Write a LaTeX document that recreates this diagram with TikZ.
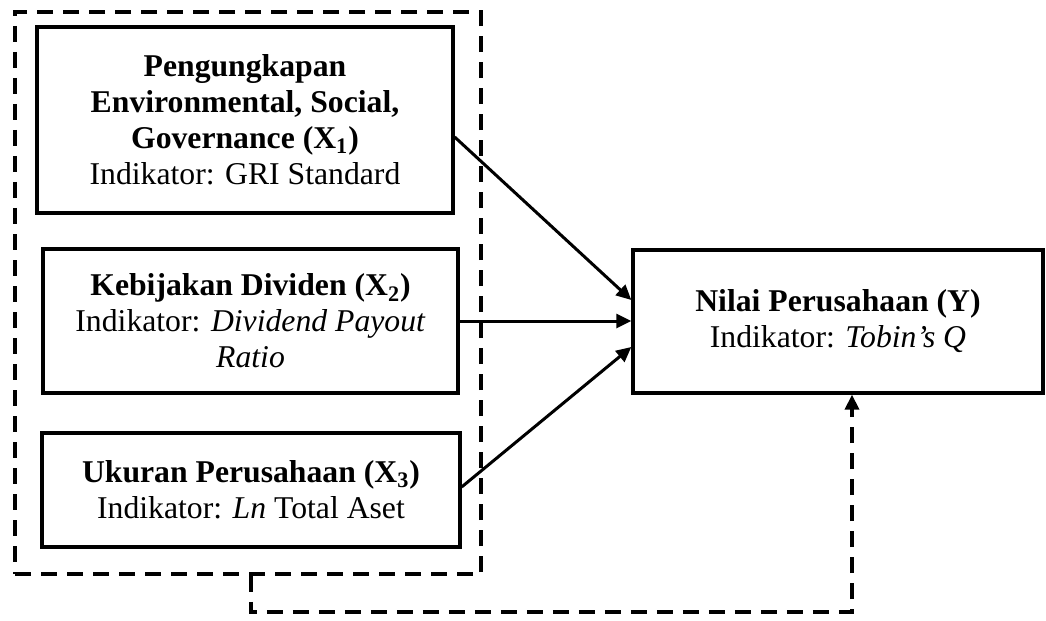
\documentclass[tikz,border=0pt]{standalone}
\usepackage{fontspec}
\setmainfont{Liberation Serif}
\usetikzlibrary{arrows.meta,calc}
\begin{document}
\begin{tikzpicture}[x=0.5pt,y=-0.5pt,
  box/.style={draw,line width=1.65pt,rectangle,align=center,inner sep=0pt,
    font=\fontsize{15.85pt}{18pt}\selectfont},
  grpbox/.style={draw,line width=1.8pt,rectangle,dash pattern=on 8pt off 5pt},
  link/.style={line width=1.5pt,-{Triangle[length=7.5pt,width=7pt]}},
  dlink/.style={line width=1.8pt,dash pattern=on 8pt off 5pt,-{Triangle[length=7.5pt,width=7pt]}}
]
\useasboundingbox (0,0) rectangle (1046,621);
\node[grpbox,minimum width=233pt,minimum height=281pt] (grp) at (248,293) {};
\node[box,minimum width=208pt,minimum height=93pt] (x1) at (245,120)
  {\textbf{Pengungkapan}\\\textbf{Environmental, Social,}\\\textbf{Governance (X\textsubscript{1})}\\Indikator: GRI Standard};
\node[box,minimum width=207.5pt,minimum height=72pt] (x2) at (250.5,321)
  {\textbf{Kebijakan Dividen (X\textsubscript{2})}\\Indikator: \textit{Dividend Payout}\\\textit{Ratio}};
\node[box,minimum width=209pt,minimum height=57pt] (x3) at (251,490)
  {\textbf{Ukuran Perusahaan (X\textsubscript{3})}\\Indikator: \textit{Ln} Total Aset};
\node[box,minimum width=205pt,minimum height=71.5pt] (yy) at (838,321.5)
  {\textbf{Nilai Perusahaan (Y)}\\Indikator: \textit{Tobin’s Q}};
\draw[link] ([yshift=-8.5pt]x1.east) -- ([yshift=10.75pt]yy.west);
\draw[link] (x2.east) -- (x2.east -| yy.west);
\draw[link] ([yshift=1.5pt]x3.east) -- ([yshift=-12.75pt]yy.west);
\coordinate (c1) at (251,612);
\draw[dlink] ([xshift=1.5pt]grp.south) -- (c1) -| ([xshift=7pt]yy.south);
\end{tikzpicture}
\end{document}
